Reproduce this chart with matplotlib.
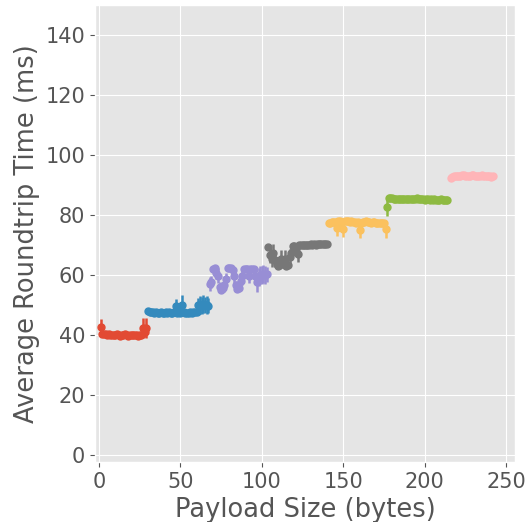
import matplotlib
matplotlib.use("Agg")
import matplotlib.pyplot as plt

# payload sizes (bytes) per group
red_x = list(range(1, 30))
blue_x = list(range(30, 68))
purple_x = list(range(68, 104))
gray_x = list(range(104, 141))
orange_x = list(range(141, 177))
green_x = list(range(177, 215))
pink_x = list(range(216, 243))

# mean roundtrip time (ms) and std
red_y = [42.5, 40.3, 40.2, 40.1, 40.0, 40.1, 39.9, 40.0, 40.0, 39.9, 40.1, 40.0, 39.7, 39.8,
         40.0, 40.1, 39.8, 39.6, 39.9, 40.0, 39.8, 39.9, 40.0, 39.7, 39.8, 40.0, 42.2, 40.8, 42.3]
red_e = [2.8, 0.1, 0.1, 0.1, 0.1, 0.1, 0.1, 0.1, 0.1, 0.1, 0.1, 0.1, 0.1, 0.1,
         0.1, 0.1, 0.1, 0.1, 0.1, 0.1, 0.1, 0.1, 0.1, 0.1, 0.1, 0.1, 3.3, 1.5, 3.3]

blue_y = [47.9, 47.6, 47.5, 47.4, 47.3, 47.4, 47.3, 47.2, 47.4, 47.3, 47.2, 47.4, 47.3, 47.4,
          47.2, 47.3, 47.4, 49.4, 47.3, 47.4, 47.2, 50.0, 47.4, 47.3, 47.2, 47.3, 47.4, 47.3,
          47.4, 47.5, 47.6, 49.8, 50.0, 49.6, 50.1, 49.8, 50.0, 49.7]
blue_e = [0.1, 0.1, 0.1, 0.1, 0.1, 0.1, 0.1, 0.1, 0.1, 0.1, 0.1, 0.1, 0.1, 0.1,
          0.1, 0.1, 0.1, 2.5, 0.1, 0.1, 0.1, 3.2, 0.1, 0.1, 0.1, 0.1, 0.1, 0.1,
          0.1, 0.1, 0.1, 2.5, 3.0, 2.8, 3.0, 2.7, 3.0, 2.5]

purple_y = [56.9, 57.5, 62.0, 62.2, 60.5, 59.7, 56.0, 54.9, 55.4, 56.7, 58.5, 62.2, 62.3, 62.1,
            61.5, 59.7, 56.5, 55.2, 55.6, 57.8, 59.7, 61.9, 62.0, 61.8, 59.7, 61.9, 62.0, 61.9,
            59.5, 57.5, 59.3, 60.0, 59.8, 60.3, 59.9, 60.1]
purple_e = [2.5, 2.0, 0.5, 0.6, 2.0, 2.5, 1.5, 1.0, 1.0, 2.5, 2.0, 0.5, 0.5, 0.5,
            1.0, 2.5, 1.5, 1.0, 1.0, 2.0, 3.0, 0.6, 0.5, 0.6, 2.5, 0.5, 0.5, 0.5,
            2.5, 3.3, 3.0, 3.0, 3.0, 3.0, 3.0, 2.5]

gray_y = [69.4, 66.5, 65.2, 67.1, 65.0, 63.5, 63.0, 64.0, 65.2, 63.6, 65.2, 63.0, 63.3, 66.0,
          67.4, 69.6, 69.7, 68.5, 66.9, 69.8, 69.9, 69.8, 69.9, 70.0, 69.9, 70.0, 70.1, 70.0,
          70.1, 70.0, 70.2, 70.1, 70.2, 70.3, 70.4, 70.3, 70.4]
gray_e = [0.5, 2.5, 2.5, 3.0, 2.5, 1.5, 1.0, 2.0, 3.0, 1.5, 3.0, 1.0, 1.0, 2.5,
          2.5, 0.5, 0.5, 1.5, 2.5, 0.1, 0.1, 0.1, 0.1, 0.1, 0.1, 0.1, 0.1, 0.1,
          0.1, 0.1, 0.1, 0.1, 0.1, 0.1, 0.1, 0.1, 0.1]

orange_y = [77.3, 77.4, 77.5, 77.6, 77.7, 75.5, 77.8, 77.9, 77.7, 75.3, 77.8, 77.9, 77.8, 77.7,
            77.8, 77.6, 77.5, 77.4, 77.5, 75.0, 77.3, 77.6, 77.7, 77.8, 77.7, 77.5, 77.4, 77.5,
            77.6, 77.4, 77.3, 77.2, 77.3, 77.1, 77.2, 75.2]
orange_e = [0.1, 0.1, 0.1, 0.1, 0.1, 2.7, 0.1, 0.1, 0.1, 2.8, 0.1, 0.1, 0.1, 0.1,
            0.1, 0.1, 0.1, 0.1, 0.1, 2.8, 0.1, 0.1, 0.1, 0.1, 0.1, 0.1, 0.1, 0.1,
            0.1, 0.1, 0.1, 0.1, 0.1, 0.1, 0.1, 2.8]

green_y = [82.7, 85.5, 85.6, 85.5, 85.4, 85.3, 85.4, 85.2, 85.3, 85.2, 85.1, 85.2, 85.3, 85.2,
           85.4, 85.2, 85.1, 85.3, 85.6, 85.3, 85.2, 85.1, 85.2, 85.0, 85.1, 85.2, 85.0, 85.1,
           85.0, 85.1, 85.0, 84.9, 85.0, 85.1, 85.0, 84.9, 85.0, 85.0]
green_e = [3.0] + [0.1] * 37

pink_y = [92.4, 92.7, 93.0, 93.1, 93.0, 92.9, 93.1, 93.2, 93.3, 93.1, 93.0, 92.8, 93.0, 93.2,
          93.3, 93.1, 92.8, 92.9, 93.1, 93.2, 93.0, 92.8, 93.0, 93.1, 92.9, 92.7, 92.8]
pink_e = [0.1] * 27

plt.style.use("ggplot")
fig, ax = plt.subplots(figsize=(5.26, 5.22), dpi=100)
fig.subplots_adjust(left=95 / 526, right=515 / 526, top=1 - 5 / 522, bottom=1 - 462 / 522)

groups = [(red_x, red_y, red_e), (blue_x, blue_y, blue_e), (purple_x, purple_y, purple_e),
          (gray_x, gray_y, gray_e), (orange_x, orange_y, orange_e), (green_x, green_y, green_e),
          (pink_x, pink_y, pink_e)]
for gx, gy, ge in groups:
    ax.errorbar(gx, gy, yerr=ge, fmt="o", markersize=5, elinewidth=1.8, capsize=0)

ax.set_xlim(-2.5, 255.5)
ax.set_ylim(-2.5, 150)
ax.set_xticks([0, 50, 100, 150, 200, 250])
ax.set_yticks([0, 20, 40, 60, 80, 100, 120, 140])
ax.tick_params(labelsize=15)
ax.set_xlabel("Payload Size (bytes)", fontsize=18.5)
ax.set_ylabel("Average Roundtrip Time (ms)", fontsize=18.5)

fig.savefig("out.png", dpi=100)
